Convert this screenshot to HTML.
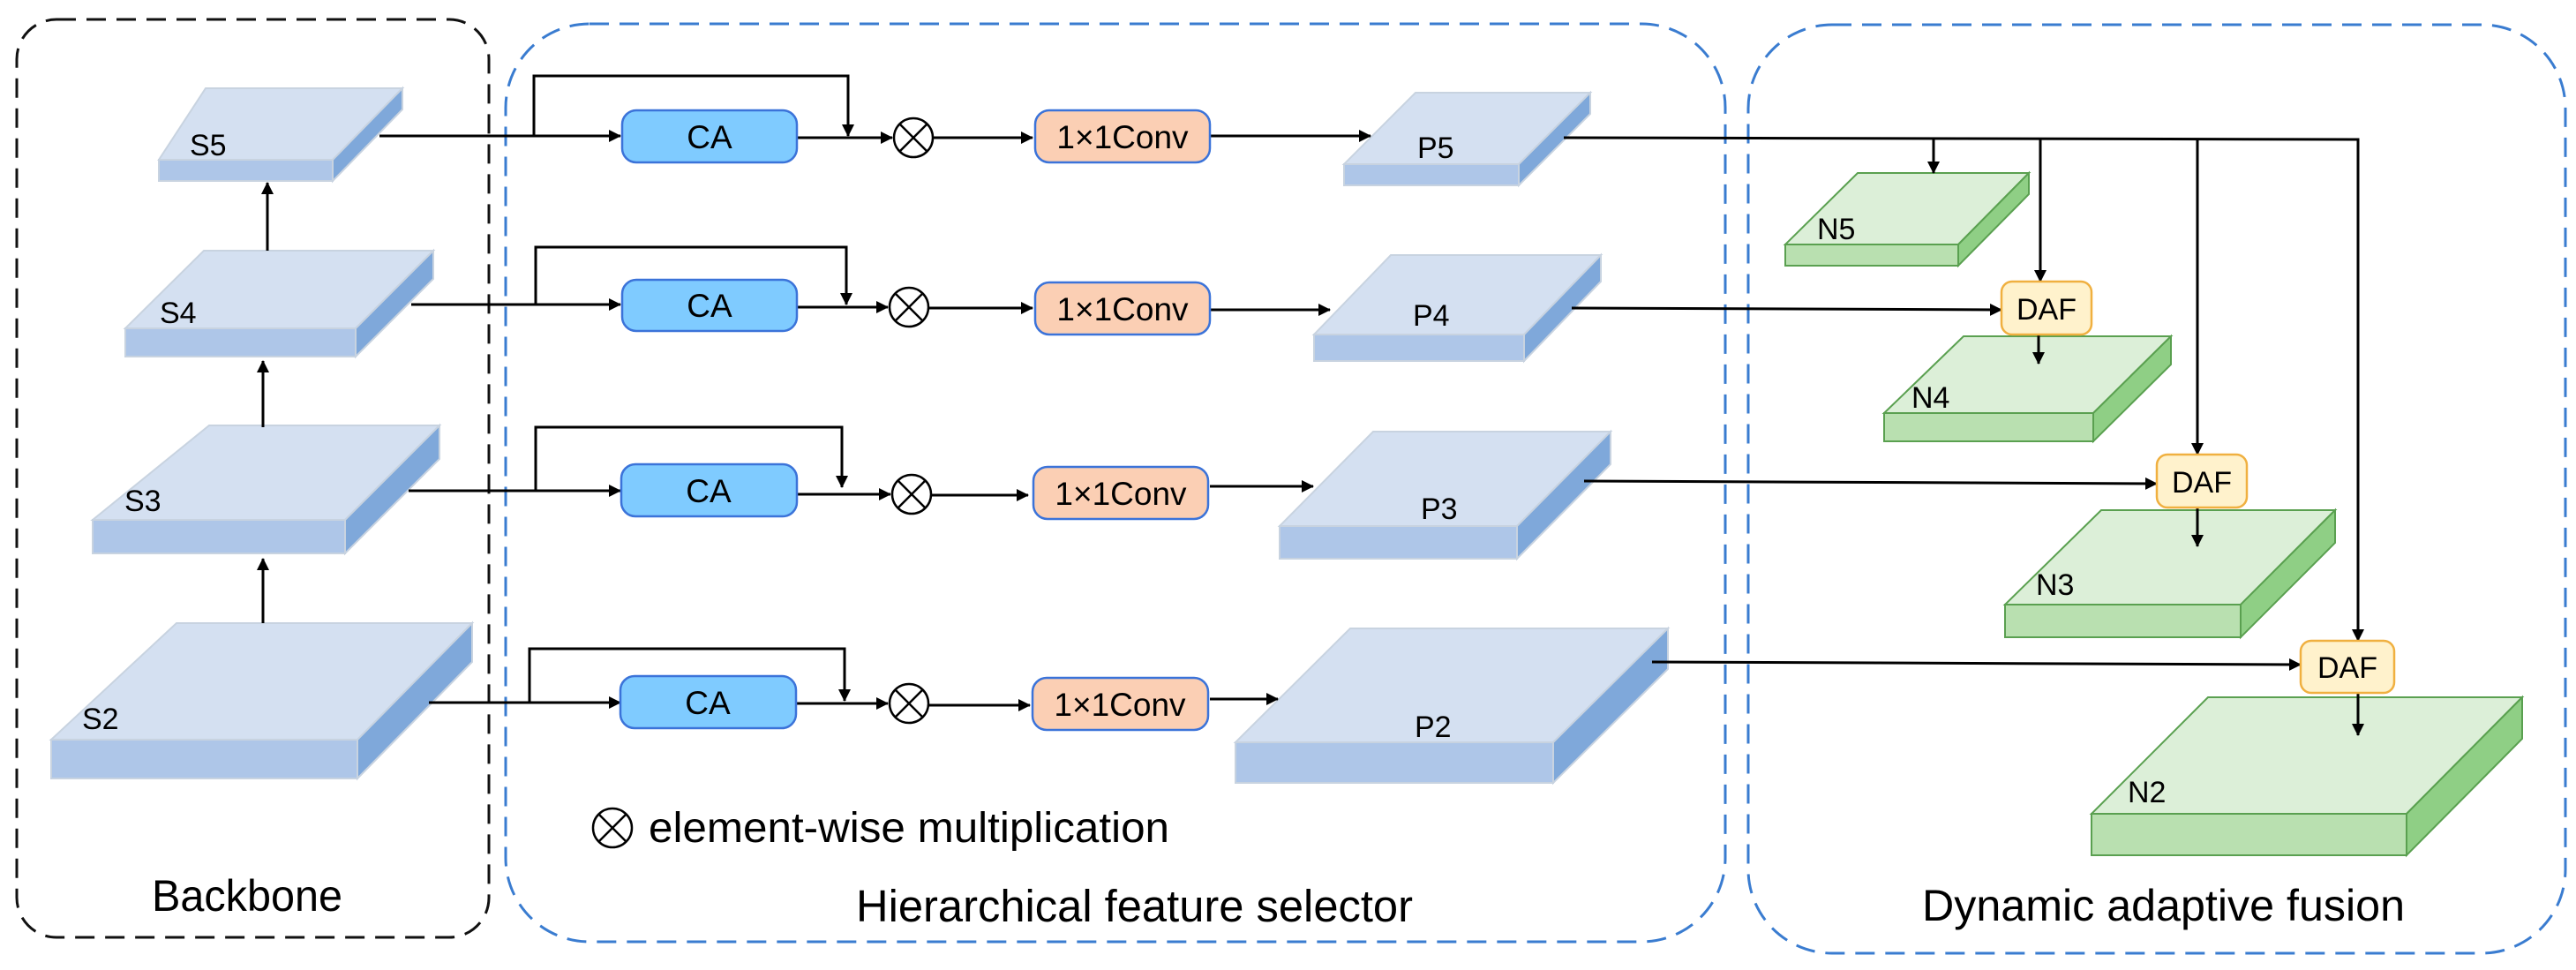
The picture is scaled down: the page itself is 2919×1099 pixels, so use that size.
<!DOCTYPE html>
<html><head><meta charset="utf-8"><style>
html,body{margin:0;padding:0;background:#fff;}
svg{display:block;}
text{font-family:"Liberation Sans",Arial,sans-serif;fill:#000;}
</style></head><body>
<svg width="2919" height="1099" viewBox="0 0 2919 1099" xmlns="http://www.w3.org/2000/svg">
<defs>
<marker id="a" markerWidth="14" markerHeight="14" refX="13" refY="7" orient="auto" markerUnits="userSpaceOnUse" viewBox="0 0 14 14">
<path d="M0,0 L14,7 L0,14 z" fill="#000"/></marker>
</defs>
<rect x="19" y="22" width="535" height="1040" rx="45" fill="none" stroke="#111" stroke-width="3" stroke-dasharray="22,12"/>
<rect x="573" y="27" width="1382" height="1040" rx="95" fill="none" stroke="#3a7cd0" stroke-width="3" stroke-dasharray="22,12"/>
<rect x="1981" y="28" width="926" height="1052" rx="95" fill="none" stroke="#3a7cd0" stroke-width="3" stroke-dasharray="22,12"/>
<text x="172" y="1032" font-size="50" textLength="216" lengthAdjust="spacingAndGlyphs">Backbone</text>
<text x="970" y="1044" font-size="51" textLength="631" lengthAdjust="spacingAndGlyphs">Hierarchical feature selector</text>
<text x="2178" y="1043" font-size="50" textLength="547" lengthAdjust="spacingAndGlyphs">Dynamic adaptive fusion</text>

<g stroke="#c8d3e0" stroke-width="2">
<g><polygon points="233,100 456,100 377,181 180,181" fill="#d4e0f1"/><polygon points="180,181 377,181 377,205 180,205" fill="#aec6e8"/><polygon points="456,100 377,181 377,205 456,124" fill="#7fa8da"/></g>
<g><polygon points="231,284 491,284 403,372 142,372" fill="#d4e0f1"/><polygon points="142,372 403,372 403,404 142,404" fill="#aec6e8"/><polygon points="491,284 403,372 403,404 491,316" fill="#7fa8da"/></g>
<g><polygon points="237,482 498,482 391,589 105,589" fill="#d4e0f1"/><polygon points="105,589 391,589 391,627 105,627" fill="#aec6e8"/><polygon points="498,482 391,589 391,627 498,520" fill="#7fa8da"/></g>
<g><polygon points="200,706 535,706 405,838 58,838" fill="#d4e0f1"/><polygon points="58,838 405,838 405,882 58,882" fill="#aec6e8"/><polygon points="535,706 405,838 405,882 535,750" fill="#7fa8da"/></g>
<g><polygon points="1604,105 1802,105 1721,186 1523,186" fill="#d4e0f1"/><polygon points="1523,186 1721,186 1721,210 1523,210" fill="#aec6e8"/><polygon points="1802,105 1721,186 1721,210 1802,129" fill="#7fa8da"/></g>
<g><polygon points="1576,289 1814,289 1727,379 1489,379" fill="#d4e0f1"/><polygon points="1489,379 1727,379 1727,409 1489,409" fill="#aec6e8"/><polygon points="1814,289 1727,379 1727,409 1814,319" fill="#7fa8da"/></g>
<g><polygon points="1556,489 1825,489 1719,596 1450,596" fill="#d4e0f1"/><polygon points="1450,596 1719,596 1719,633 1450,633" fill="#aec6e8"/><polygon points="1825,489 1719,596 1719,633 1825,526" fill="#7fa8da"/></g>
<g><polygon points="1530,712 1890,712 1760,841 1400,841" fill="#d4e0f1"/><polygon points="1400,841 1760,841 1760,887 1400,887" fill="#aec6e8"/><polygon points="1890,712 1760,841 1760,887 1890,758" fill="#7fa8da"/></g>
</g>
<g stroke="#5aa050" stroke-width="2">
<g><polygon points="2105,196 2299,196 2219,277 2023,277" fill="#dcefd8"/><polygon points="2023,277 2219,277 2219,301 2023,301" fill="#b9e0b0"/><polygon points="2299,196 2219,277 2219,301 2299,220" fill="#8fcf85"/></g>
<g><polygon points="2225,381 2460,381 2372,468 2135,468" fill="#dcefd8"/><polygon points="2135,468 2372,468 2372,500 2135,500" fill="#b9e0b0"/><polygon points="2460,381 2372,468 2372,500 2460,413" fill="#8fcf85"/></g>
<g><polygon points="2381,578 2646,578 2539,685 2272,685" fill="#dcefd8"/><polygon points="2272,685 2539,685 2539,722 2272,722" fill="#b9e0b0"/><polygon points="2646,578 2539,685 2539,722 2646,615" fill="#8fcf85"/></g>
<g><polygon points="2502,790 2858,790 2727,922 2370,922" fill="#dcefd8"/><polygon points="2370,922 2727,922 2727,969 2370,969" fill="#b9e0b0"/><polygon points="2858,790 2727,922 2727,969 2858,837" fill="#8fcf85"/></g>
</g>
<g font-size="34">
<text x="215" y="176">S5</text><text x="181" y="366">S4</text><text x="141" y="579">S3</text><text x="93" y="826">S2</text>
<text x="1606" y="179">P5</text><text x="1601" y="369">P4</text><text x="1610" y="588">P3</text><text x="1603" y="835">P2</text>
<text x="2059" y="271">N5</text><text x="2166" y="462">N4</text><text x="2307" y="674">N3</text><text x="2411" y="909">N2</text>
</g>

<g stroke="#000" stroke-width="3" fill="none">
<line x1="303" y1="284" x2="303" y2="207" marker-end="url(#a)"/>
<line x1="298" y1="484" x2="298" y2="409" marker-end="url(#a)"/>
<line x1="298" y1="706" x2="298" y2="633" marker-end="url(#a)"/>

<line x1="430" y1="154" x2="703" y2="154" marker-end="url(#a)"/>
<polyline points="605,154 605,86 961,86 961,154" marker-end="url(#a)"/>
<line x1="903" y1="156" x2="1011" y2="156" marker-end="url(#a)"/>
<line x1="1058" y1="156" x2="1170" y2="156" marker-end="url(#a)"/>
<line x1="1371" y1="154" x2="1553" y2="154" marker-end="url(#a)"/>

<line x1="466" y1="345" x2="703" y2="345" marker-end="url(#a)"/>
<polyline points="607,345 607,280 959,280 959,345" marker-end="url(#a)"/>
<line x1="903" y1="348" x2="1006" y2="348" marker-end="url(#a)"/>
<line x1="1053" y1="349" x2="1170" y2="349" marker-end="url(#a)"/>
<line x1="1371" y1="351" x2="1507" y2="351" marker-end="url(#a)"/>

<line x1="463" y1="556" x2="703" y2="556" marker-end="url(#a)"/>
<polyline points="607,556 607,484 954,484 954,552" marker-end="url(#a)"/>
<line x1="903" y1="560" x2="1009" y2="560" marker-end="url(#a)"/>
<line x1="1056" y1="561" x2="1165" y2="561" marker-end="url(#a)"/>
<line x1="1371" y1="551" x2="1488" y2="551" marker-end="url(#a)"/>

<line x1="486" y1="796" x2="703" y2="796" marker-end="url(#a)"/>
<polyline points="600,796 600,735 957,735 957,794" marker-end="url(#a)"/>
<line x1="903" y1="797" x2="1006" y2="797" marker-end="url(#a)"/>
<line x1="1053" y1="799" x2="1167" y2="799" marker-end="url(#a)"/>
<line x1="1371" y1="792" x2="1448" y2="792" marker-end="url(#a)"/>

<polyline points="1772,156 2672,158 2672,726" marker-end="url(#a)"/>
<line x1="2191" y1="157" x2="2191" y2="196" marker-end="url(#a)"/>
<line x1="2312" y1="157" x2="2312" y2="319" marker-end="url(#a)"/>
<line x1="2490" y1="158" x2="2490" y2="515" marker-end="url(#a)"/>
<line x1="1781" y1="349" x2="2268" y2="351" marker-end="url(#a)"/>
<line x1="1795" y1="545" x2="2444" y2="548" marker-end="url(#a)"/>
<line x1="1872" y1="750" x2="2607" y2="753" marker-end="url(#a)"/>
<line x1="2310" y1="379" x2="2310" y2="412" marker-end="url(#a)"/>
<line x1="2490" y1="575" x2="2490" y2="619" marker-end="url(#a)"/>
<line x1="2672" y1="785" x2="2672" y2="833" marker-end="url(#a)"/>
</g>

<g stroke="#3b73d9" stroke-width="2.5">
<rect x="705" y="125" width="198" height="59" rx="16" fill="#7fcbff"/>
<rect x="705" y="317" width="198" height="58" rx="16" fill="#7fcbff"/>
<rect x="704" y="526" width="199" height="59" rx="16" fill="#7fcbff"/>
<rect x="703" y="766" width="199" height="59" rx="16" fill="#7fcbff"/>
<rect x="1173" y="125" width="198" height="59" rx="16" fill="#fbcfb4"/>
<rect x="1173" y="320" width="198" height="59" rx="16" fill="#fbcfb4"/>
<rect x="1171" y="529" width="198" height="59" rx="16" fill="#fbcfb4"/>
<rect x="1170" y="768" width="199" height="59" rx="16" fill="#fbcfb4"/>
</g>
<g font-size="37" text-anchor="middle">
<text x="804" y="168">CA</text><text x="804" y="359">CA</text><text x="803" y="569">CA</text><text x="802" y="809">CA</text>
<text x="1272" y="168">1×1Conv</text><text x="1272" y="363">1×1Conv</text><text x="1270" y="572">1×1Conv</text><text x="1269" y="811">1×1Conv</text>
</g>
<g stroke="#f0b040" stroke-width="2.5" fill="#fff2cc">
<rect x="2268" y="319" width="102" height="60" rx="12"/>
<rect x="2444" y="515" width="102" height="60" rx="12"/>
<rect x="2607" y="726" width="106" height="59" rx="12"/>
</g>
<g font-size="34" text-anchor="middle">
<text x="2319" y="362">DAF</text><text x="2495" y="558">DAF</text><text x="2660" y="768">DAF</text>
</g>

<g stroke="#000" stroke-width="2.5" fill="#fff">
<g transform="translate(1035,156)"><circle r="22"/><line x1="-15" y1="-15" x2="15" y2="15"/><line x1="15" y1="-15" x2="-15" y2="15"/></g>
<g transform="translate(1030,348)"><circle r="22"/><line x1="-15" y1="-15" x2="15" y2="15"/><line x1="15" y1="-15" x2="-15" y2="15"/></g>
<g transform="translate(1033,560)"><circle r="22"/><line x1="-15" y1="-15" x2="15" y2="15"/><line x1="15" y1="-15" x2="-15" y2="15"/></g>
<g transform="translate(1030,797)"><circle r="22"/><line x1="-15" y1="-15" x2="15" y2="15"/><line x1="15" y1="-15" x2="-15" y2="15"/></g>
<g transform="translate(694,938)"><circle r="22"/><line x1="-15" y1="-15" x2="15" y2="15"/><line x1="15" y1="-15" x2="-15" y2="15"/></g>
</g>
<text x="735" y="954" font-size="48" textLength="590" lengthAdjust="spacingAndGlyphs">element-wise multiplication</text>
</svg>
</body></html>
